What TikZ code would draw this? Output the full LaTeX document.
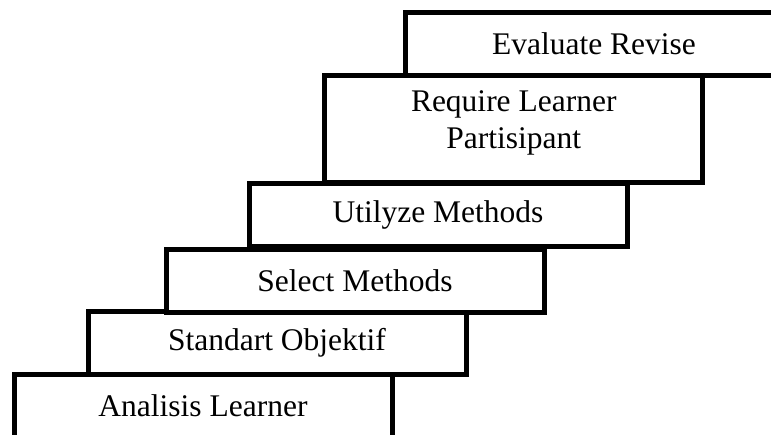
\documentclass[tikz,border=0pt]{standalone}
\usepackage{fontspec}
\setmainfont{Liberation Serif}

\begin{document}
\begin{tikzpicture}[
    x=0.5pt, y=-0.5pt,
    stepbox/.style={draw=black, line width=2.5pt, fill=white,
      minimum width=189pt, minimum height=31.5pt, inner sep=0pt,
      align=center, font=\fontsize{15.75}{18.75}\selectfont}]

  \useasboundingbox (0,0) rectangle (771,434);
  \clip (0,0) rectangle (771,434);

  % Draw steps
  \foreach \nm/\cx/\cy/\txt in {
      analisis/203/406/Analisis Learner,
      standart/277/343/Standart Objektif,
      select/355/280.5/Select Methods,
      utilyze/438/214.5/Utilyze Methods,
      evaluate/594/44/Evaluate Revise}{
    \node [stepbox] (\nm) at (\cx, \cy) {\txt};
  }

  % Tall step
  \node [stepbox, minimum height=53.75pt, text depth=9pt] (require)
    at (513.75, 128.75) {Require Learner\\Partisipant};

\end{tikzpicture}
\end{document}
